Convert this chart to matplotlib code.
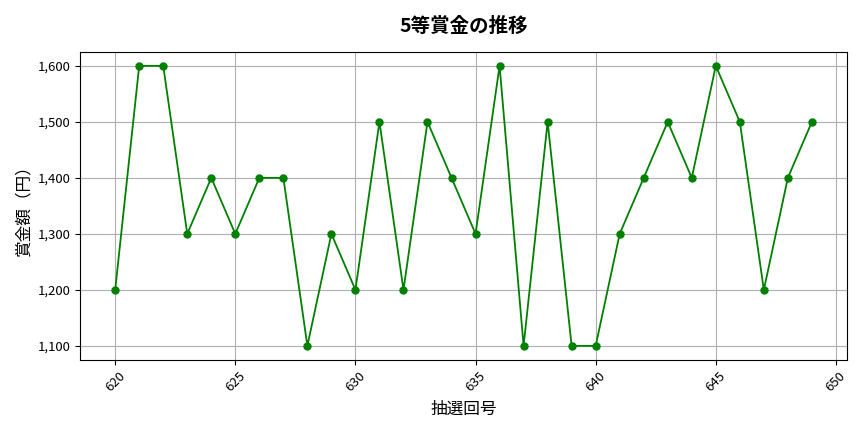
import matplotlib
matplotlib.use("Agg")
import matplotlib.pyplot as plt
from matplotlib.ticker import FuncFormatter

plt.rcParams["font.family"] = ["Noto Sans CJK JP", "DejaVu Sans"]

draws = list(range(620, 650))
prizes = [1200, 1600, 1600, 1300, 1400, 1300, 1400, 1400, 1100, 1300,
          1200, 1500, 1200, 1500, 1400, 1300, 1600, 1100, 1500, 1100,
          1100, 1300, 1400, 1500, 1400, 1600, 1500, 1200, 1400, 1500]


def main():
    fig, ax = plt.subplots(figsize=(8.64, 4.32), dpi=100)
    ax.plot(draws, prizes, color="green", marker="o", markersize=5, linewidth=1.3)
    ax.set_title("5等賞金の推移", fontsize=14, fontweight="bold", pad=14)
    ax.set_xlabel("抽選回号", fontsize=12, labelpad=5)
    ax.set_ylabel("賞金額（円）", fontsize=12, labelpad=4)
    ax.yaxis.set_major_formatter(FuncFormatter(lambda v, _: f"{int(v):,}"))
    ax.tick_params(axis="both", labelsize=9.5)
    plt.setp(ax.get_xticklabels(), rotation=45)
    ax.grid(True, color="#b0b0b0", linewidth=0.8)
    fig.subplots_adjust(left=0.093, right=0.980, top=0.880, bottom=0.167)
    fig.savefig("out.png", dpi=100)


if __name__ == "__main__":
    main()
